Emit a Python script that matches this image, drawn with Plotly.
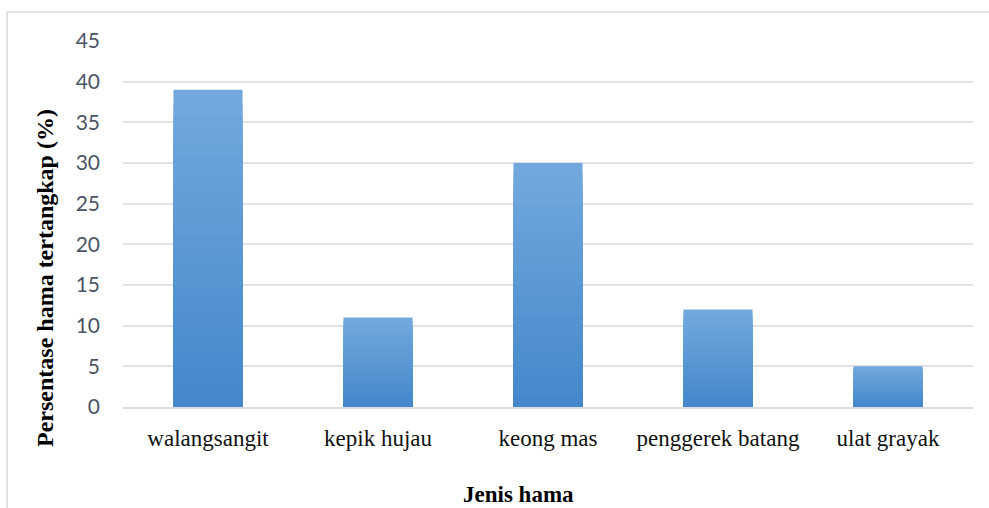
import plotly.graph_objects as go

# Pest species and percentage of pests caught
categories = ["walangsangit", "kepik hujau", "keong mas", "penggerek batang", "ulat grayak"]
values = [39, 11, 30, 12, 5]
y_ticks = [0, 5, 10, 15, 20, 25, 30, 35, 40, 45]

W, H = 989, 508
M_L, M_R, M_T, M_B = 123, 16, 41, 101
pw = W - M_L - M_R
ph = H - M_T - M_B


def px_x(px):
    """Pixel column -> paper x."""
    return (px - M_L) / pw


def px_y(py):
    """Pixel row -> paper y."""
    return (H - M_B - py) / ph


fig = go.Figure()

# Vertical gradient fill: overlay progressively shorter, darker bars
top_rgb = (114, 168, 221)
bot_rgb = (68, 136, 203)
N = 24
for k in range(N):
    t = k / (N - 1)
    r = round(top_rgb[0] + (bot_rgb[0] - top_rgb[0]) * t)
    g = round(top_rgb[1] + (bot_rgb[1] - top_rgb[1]) * t)
    b = round(top_rgb[2] + (bot_rgb[2] - top_rgb[2]) * t)
    frac = (N - k) / N
    fig.add_trace(go.Bar(
        x=categories,
        y=[v * frac for v in values],
        marker=dict(color=f"rgb({r},{g},{b})", line=dict(width=0)),
        hoverinfo="skip" if k else None,
        showlegend=False,
    ))

# outer chart frame
fig.add_shape(type="rect", xref="paper", yref="paper",
              x0=px_x(7), x1=px_x(W + 20), y0=px_y(H + 20), y1=px_y(12),
              line=dict(color="#d9d9d9", width=1.5), fillcolor="rgba(0,0,0,0)",
              layer="below")

# axis titles, centred on the chart area
fig.add_annotation(text="<b>Persentase hama tertangkap (%)</b>", textangle=-90,
                   xref="paper", yref="paper", x=px_x(45), y=px_y(278),
                   xanchor="center", yanchor="middle", showarrow=False,
                   font=dict(family="Liberation Serif", size=24, color="#000000"))
fig.add_annotation(text="<b>Jenis hama</b>",
                   xref="paper", yref="paper", x=px_x(518), y=px_y(494),
                   xanchor="center", yanchor="middle", showarrow=False,
                   font=dict(family="Liberation Serif", size=23, color="#000000"))

fig.update_layout(
    width=W, height=H,
    margin=dict(l=M_L, r=M_R, t=M_T, b=M_B, autoexpand=False),
    paper_bgcolor="white", plot_bgcolor="white",
    barmode="overlay", bargap=0.594,
    xaxis=dict(
        automargin=False,
        tickfont=dict(family="Liberation Serif", size=23, color="#111111"),
        showgrid=False, showline=True, linecolor="#d9dde3", linewidth=1.5,
        ticks="", ticklabelstandoff=10,
    ),
    yaxis=dict(
        automargin=False,
        range=[0, 45], tickvals=y_ticks,
        tickfont=dict(family="Lato", size=21, color="#4a5568"),
        showgrid=True, gridcolor="#dfe3e8", gridwidth=1.5,
        zeroline=False, ticks="", ticklabelstandoff=22,
    ),
)

fig.write_html("out.html")
